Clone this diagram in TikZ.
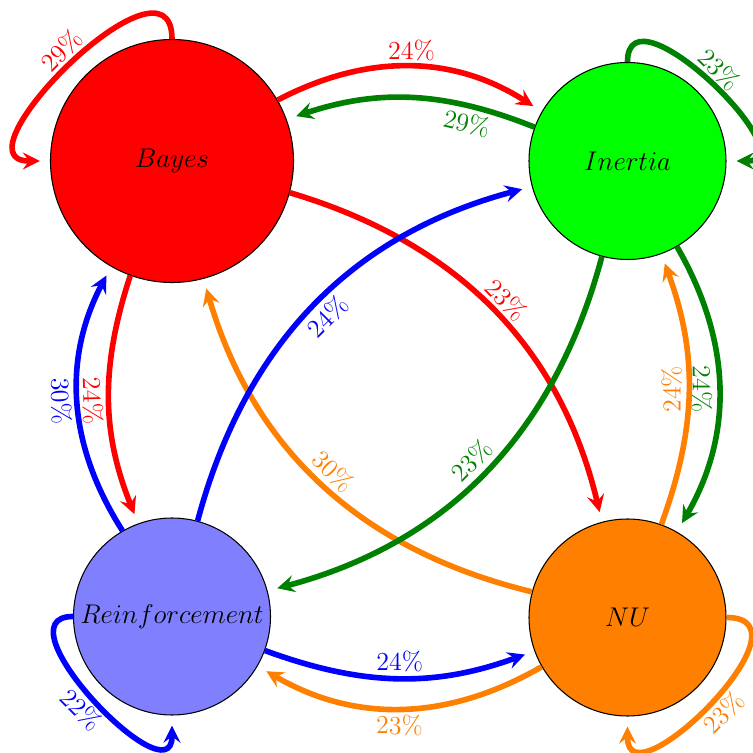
\RequirePackage{fix-cm}
\documentclass[tikz,border=0pt]{standalone}
\usepackage{amsmath}
\colorlet{darkgreen}{green!50!black}

\begin{document}
\begin{tikzpicture}[>=stealth,
  state/.style={circle, draw=black, line width=0.6pt, inner sep=0pt,
    minimum size=3.94cm, font=\fontsize{15.4}{19}\selectfont},
  trans/.style={->, line width=3.2pt, shorten >=0.2cm},
  pct/.style={font=\fontsize{14.8}{18}\selectfont, inner sep=2pt}]
  \useasboundingbox (0,0) rectangle (15.06,15.06);
  \clip (0,0) rectangle (15.06,15.06);
  % states
  \node[state, fill=red, minimum size=4.86cm] (B) at (3.44,11.84) {$Bayes$};
  \node[state, fill=green] (I) at (12.55,11.84) {$Inertia$};
  \node[state, fill=blue!50] (R) at (3.44,2.73) {$Reinforcement$};
  \node[state, fill=orange] (N) at (12.55,2.71) {$NU$};
  % self loops
  \draw[trans, red] (B) to[out=90, in=180, out distance=2cm, in distance=2cm]
    node[pct, sloped, above] {29\%} (B);
  \draw[trans, darkgreen] (I) to[out=90, in=0, out distance=1.6cm, in distance=1.65cm]
    node[pct, sloped, above] {23\%} (I);
  \draw[trans, blue] (R) to[out=180, in=270, out distance=1.55cm, in distance=1.7cm]
    node[pct, sloped, below] {22\%} (R);
  \draw[trans, orange] (N) to[out=0, in=270, out distance=1.85cm, in distance=1.8cm]
    node[pct, sloped, below] {23\%} (N);
  % top and bottom
  \draw[trans, red] (B) to[bend left=30] node[pct, above] {24\%} (I);
  \draw[trans, darkgreen] (I) to[bend right=20] node[pct, sloped, below, pos=.25] {29\%} (B);
  \draw[trans, blue] (R) to[bend right=20] node[pct, above] {24\%} (N);
  \draw[trans, orange] (N) to[bend left=30] node[pct, sloped, below] {23\%} (R);
  % left and right
  \draw[trans, red] (B) to[bend right=20] node[pct, sloped, below] {24\%} (R);
  \draw[trans, blue] (R) to[bend left=30] node[pct, sloped, below] {30\%} (B);
  \draw[trans, darkgreen] (I) to[bend left=30] node[pct, sloped, allow upside down, below] {24\%} (N);
  \draw[trans, orange] (N) to[bend right=20] node[pct, sloped, allow upside down, above] {24\%} (I);
  % diagonals
  \draw[trans, red] (B) to[bend left=30] node[pct, sloped, above] {23\%} (N);
  \draw[trans, orange] (N) to[bend left=30] node[pct, sloped, above] {30\%} (B);
  \draw[trans, darkgreen] (I) to[bend left=30] node[pct, sloped, above] {23\%} (R);
  \draw[trans, blue] (R) to[bend left=30] node[pct, sloped, below] {24\%} (I);
\end{tikzpicture}
\end{document}
